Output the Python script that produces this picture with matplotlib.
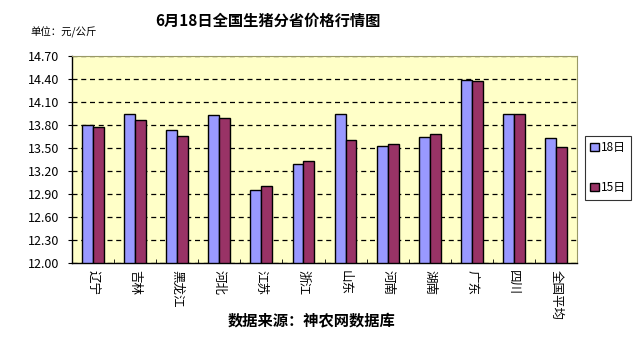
import matplotlib
matplotlib.use("Agg")
import matplotlib.pyplot as plt
import numpy as np
from matplotlib.patches import Patch

plt.rcParams['font.family'] = ['Noto Sans CJK SC', 'DejaVu Sans']

provinces = ["辽宁", "吉林", "黑龙江", "河北", "江苏", "浙江", "山东", "河南", "湖南", "广东", "四川", "全国平均"]
price_18 = [13.80, 13.94, 13.74, 13.93, 12.95, 13.29, 13.94, 13.52, 13.64, 14.39, 13.95, 13.63]
price_15 = [13.78, 13.86, 13.65, 13.89, 13.00, 13.33, 13.60, 13.55, 13.68, 14.37, 13.95, 13.51]
series_names = ["18日", "15日"]
yticks = [12.00, 12.30, 12.60, 12.90, 13.20, 13.50, 13.80, 14.10, 14.40, 14.70]

fig = plt.figure(figsize=(6.37, 3.54), dpi=100)
ax = fig.add_axes([72/637, 91/354, 505/637, 207/354])
ax.set_facecolor('#FFFFC8')

x = np.arange(len(provinces))
w = 0.26
ax.bar(x - w/2, np.array(price_18) - 12.0, w, bottom=12.0, color='#9999FF', edgecolor='black', linewidth=1.0, zorder=3)
ax.bar(x + w/2, np.array(price_15) - 12.0, w, bottom=12.0, color='#993366', edgecolor='black', linewidth=1.0, zorder=3)

ax.set_ylim(12.0, 14.7)
ax.set_xlim(-0.5, len(provinces) - 0.5)
ax.set_yticks(yticks)
ax.set_yticklabels([f"{v:.2f}" for v in yticks], fontsize=9)
ax.yaxis.grid(True, linestyle=(0, (4, 3)), color='black', linewidth=0.9, zorder=1)
ax.set_axisbelow(True)
ax.tick_params(axis='y', direction='out', length=3, pad=6)

ax.set_xticks(x)
ax.set_xticklabels(provinces, rotation=270, fontsize=9, va='top', ha='center')
ax.tick_params(axis='x', length=0, pad=5)
ax.set_xticks(np.arange(-0.5, len(provinces)), minor=True)
ax.tick_params(axis='x', which='minor', direction='in', length=3)

for s in ['top', 'right']:
    ax.spines[s].set_color('#999966')
    ax.spines[s].set_linewidth(0.8)
for s in ['left', 'bottom']:
    ax.spines[s].set_color('black')
    ax.spines[s].set_linewidth(1.0)

fig.text(268/637, 1 - 21/354, "6月18日全国生猪分省价格行情图", ha='center', va='center', fontsize=11, fontweight='bold')
fig.text(30/637, 1 - 32/354, "单位：元/公斤", ha='left', va='center', fontsize=7.5)
fig.text(312/637, 1 - 320/354, "数据来源：神农网数据库", ha='center', va='center', fontsize=11, fontweight='bold')

handles = [Patch(facecolor='#9999FF', edgecolor='black', label=series_names[0]),
           Patch(facecolor='#993366', edgecolor='black', label=series_names[1])]
leg = fig.legend(handles=handles, loc='upper left', bbox_to_anchor=(585/637, 1 - 136/354),
                 frameon=True, fancybox=False, edgecolor='black', fontsize=8.5,
                 handlelength=0.7, handleheight=0.7, handletextpad=0.2,
                 labelspacing=2.3, borderpad=0.45, borderaxespad=0)
leg.get_frame().set_linewidth(0.8)

fig.savefig("out.png", dpi=100)
